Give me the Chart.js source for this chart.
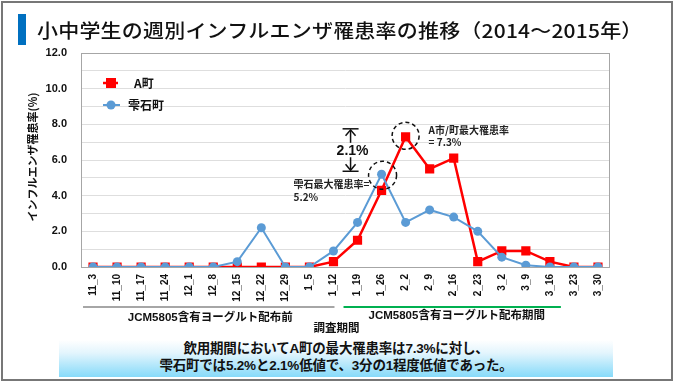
<!DOCTYPE html>
<html>
<head>
<meta charset="utf-8">
<script src="https://cdn.jsdelivr.net/npm/chart.js@4/dist/chart.umd.min.js"></script>
<style>
  html,body{margin:0;padding:0;background:#fff;}
  #wrap{position:relative;width:674px;height:382px;overflow:hidden;font-family:"Noto Sans CJK JP","Noto Sans",sans-serif;}
  #frame{position:absolute;left:1px;top:1px;width:668px;height:376px;border:2px solid #777;box-sizing:content-box;}
  #bar{position:absolute;left:18px;top:14px;width:8px;height:31px;background:#0070c0;}
  #title{position:absolute;left:37px;top:13px;font-size:21px;font-weight:500;color:#111;white-space:nowrap;line-height:34px;letter-spacing:0.2px;transform:scaleY(0.9);transform-origin:left center;}
  #note{position:absolute;left:59px;top:340px;width:554px;height:37px;background:linear-gradient(#ffffff 0%, #e3f5fd 35%, #86daf9 100%);text-align:center;font-family:"Liberation Sans","Noto Sans CJK JP",sans-serif;font-size:13.5px;letter-spacing:-0.2px;font-weight:700;color:#111;line-height:17px;padding-top:0px;box-sizing:border-box;}
  canvas{position:absolute;left:0;top:0;}
</style>
</head>
<body>
<div id="wrap">
  <canvas id="c" width="674" height="382"></canvas>
  <div id="bar"></div>
  <div id="title">小中学生の週別インフルエンザ罹患率の推移（2014～2015年）</div>
  <div id="note">飲用期間においてA町の最大罹患率は7.3%に対し、<br>雫石町では5.2%と2.1%低値で、3分の1程度低値であった。</div>
  <div id="frame"></div>
</div>
<script>
const categories = ["11_3","11_10","11_17","11_24","12_1","12_8","12_15","12_22","12_29","1_5","1_12","1_19","1_26","2_2","2_9","2_16","2_23","3_2","3_9","3_16","3_23","3_30"];
const townA = [0,0,0,0,0,0,0,0,0,0,0.3,1.5,4.3,7.3,5.5,6.1,0.3,0.9,0.9,0.3,0,0];
const shizukuishi = [0,0,0,0,0,0,0.3,2.2,0,0,0.9,2.5,5.2,2.5,3.2,2.8,2.0,0.55,0.1,0,0,0];
const seriesNames = ["A町","雫石町"];
const yTicks = [0,2,4,6,8,10,12];
const groupLabels = ["JCM5805含有ヨーグルト配布前","JCM5805含有ヨーグルト配布期間"];
const xTitle = "調査期間";
const yTitle = "インフルエンザ罹患率(%)";
const annA = ["A市/町最大罹患率","= 7.3%"];
const annB = ["雫石最大罹患率=","5.2%"];
const diffLabel = "2.1%";

const RED = "#ff0000", BLUE = "#5b9bd5";
const FONT = '"Liberation Sans","Noto Sans CJK JP",sans-serif';
const CJK = '"Noto Sans CJK JP","Liberation Sans",sans-serif';

const deco = {
  id: "deco",
  afterDraw(chart) {
    const ctx = chart.ctx, a = chart.chartArea;
    const xs = chart.scales.x, ys = chart.scales.y;
    ctx.save();
    // plot frame
    ctx.strokeStyle = "#a6a6a6"; ctx.lineWidth = 1;
    ctx.strokeRect(a.left + 0.5, a.top + 0.5, a.right - a.left - 1, a.bottom - a.top);
    // legend
    const lx = a.left + 22;
    ctx.lineWidth = 2.5; ctx.strokeStyle = RED;
    ctx.beginPath(); ctx.moveTo(lx, a.top + 30); ctx.lineTo(lx + 15, a.top + 30); ctx.stroke();
    ctx.fillStyle = RED; ctx.fillRect(lx + 3, a.top + 25, 10, 10);
    ctx.lineWidth = 2; ctx.strokeStyle = BLUE;
    ctx.beginPath(); ctx.moveTo(lx, a.top + 52); ctx.lineTo(lx + 17, a.top + 52); ctx.stroke();
    ctx.fillStyle = BLUE; ctx.beginPath(); ctx.arc(lx + 8, a.top + 52, 4.5, 0, Math.PI * 2); ctx.fill();
    ctx.fillStyle = "#111"; ctx.font = "bold 12px " + CJK; ctx.textBaseline = "middle"; ctx.textAlign = "left";
    ctx.fillText(seriesNames[0], lx + 31, a.top + 30);
    ctx.fillText(seriesNames[1], lx + 25, a.top + 52);
    // y title
    ctx.save();
    ctx.translate(33, (a.top + a.bottom) / 2 - 3);
    ctx.rotate(-Math.PI / 2);
    ctx.textAlign = "center"; ctx.font = "bold 11px " + CJK; ctx.fillStyle = "#111";
    ctx.fillText(yTitle, 0, 0);
    ctx.restore();
    // group lines
    const px = i => xs.getPixelForValue(i);
    ctx.lineWidth = 2;
    ctx.strokeStyle = "#a6a6a6";
    ctx.beginPath(); ctx.moveTo(px(0) - 10, 307); ctx.lineTo(px(10) + 1, 307); ctx.stroke();
    ctx.strokeStyle = "#00b050";
    ctx.beginPath(); ctx.moveTo(px(11) - 14, 307); ctx.lineTo(px(19) + 11, 307); ctx.stroke();
    ctx.fillStyle = "#111"; ctx.font = "bold 11.5px " + FONT; ctx.textAlign = "center"; ctx.textBaseline = "middle";
    ctx.fillText(groupLabels[0], (px(0) + px(10)) / 2 - 3, 318);
    ctx.fillText(groupLabels[1], (px(11) + px(19)) / 2 + 3, 316);
    ctx.fillText(xTitle, (px(10) + px(11)) / 2 - 9, 329);
    // dashed circles
    const iA = townA.indexOf(Math.max(...townA));
    const iB = shizukuishi.indexOf(Math.max(...shizukuishi));
    const ax = px(iA), ay = ys.getPixelForValue(townA[iA]);
    const bx = px(iB), by = ys.getPixelForValue(shizukuishi[iB]);
    ctx.setLineDash([4, 3]); ctx.lineWidth = 1.5; ctx.strokeStyle = "#111";
    ctx.beginPath(); ctx.arc(ax, ay - 1, 13.5, 0, Math.PI * 2); ctx.stroke();
    ctx.beginPath(); ctx.arc(bx + 1, by + 1, 14, 0, Math.PI * 2); ctx.stroke();
    ctx.setLineDash([]);
    // annotation texts
    ctx.font = "bold 10px " + CJK; ctx.fillStyle = "#222"; ctx.textAlign = "left";
    ctx.fillText(annA[0], ax + 23, ay - 7);
    ctx.fillText(annA[1], ax + 23, ay + 5);
    ctx.fillText(annB[0], bx - 88, by + 10);
    ctx.fillText(annB[1], bx - 88, by + 23);
    // difference arrows
    const cx = bx - 31, topY = ay - 8, botY = by - 3;
    ctx.strokeStyle = "#111"; ctx.fillStyle = "#111"; ctx.lineWidth = 1.5;
    ctx.beginPath(); ctx.moveTo(cx - 8, topY); ctx.lineTo(cx + 8, topY); ctx.stroke();
    ctx.beginPath(); ctx.moveTo(cx, topY + 2); ctx.lineTo(cx, topY + 14); ctx.stroke();
    ctx.beginPath(); ctx.moveTo(cx - 5, topY + 7); ctx.lineTo(cx, topY + 1); ctx.lineTo(cx + 5, topY + 7); ctx.stroke();
    ctx.beginPath(); ctx.moveTo(cx - 8, botY); ctx.lineTo(cx + 8, botY); ctx.stroke();
    ctx.beginPath(); ctx.moveTo(cx, botY - 2); ctx.lineTo(cx, botY - 14); ctx.stroke();
    ctx.beginPath(); ctx.moveTo(cx - 5, botY - 7); ctx.lineTo(cx, botY - 1); ctx.lineTo(cx + 5, botY - 7); ctx.stroke();
    ctx.font = "bold 14px " + FONT; ctx.textAlign = "center"; ctx.fillStyle = "#111";
    ctx.fillText(diffLabel, cx + 2, (topY + botY) / 2 + 1);
    ctx.restore();
  }
};

new Chart(document.getElementById("c"), {
  type: "line",
  data: {
    labels: categories,
    datasets: [
      { label: seriesNames[1], data: shizukuishi, borderColor: BLUE, backgroundColor: BLUE, borderWidth: 2,
        pointStyle: "circle", pointRadius: 4.5, pointBorderWidth: 0, tension: 0 },
      { label: seriesNames[0], data: townA, borderColor: RED, backgroundColor: RED, borderWidth: 2.5,
        pointStyle: "rect", pointRadius: 6.5, pointBorderWidth: 0, tension: 0 }
    ]
  },
  options: {
    responsive: false,
    animation: false,
    layout: { padding: { left: 0, top: 53, right: 64, bottom: 0 } },
    plugins: { legend: { display: false }, tooltip: { enabled: false } },
    scales: {
      x: {
        offset: true,
        grid: { display: false, drawTicks: false },
        border: { display: false },
        ticks: { autoSkip: false, maxRotation: 90, minRotation: 90, padding: 7, color: "#111",
                 font: { family: FONT, size: 10, weight: "bold" } },
        afterFit(s) { s.height = 115; }
      },
      y: {
        min: 0, max: 12,
        grid: { color: "#dedede", drawTicks: false },
        border: { display: false },
        ticks: { stepSize: 1, autoSkip: false, padding: 14, color: "#111",
                 font: { family: FONT, size: 11, weight: "bold" },
                 callback: v => yTicks.includes(v) ? v.toFixed(1) : "" },
        afterFit(s) { s.width = 81; }
      }
    }
  },
  plugins: [deco]
});
</script>
</body>
</html>
